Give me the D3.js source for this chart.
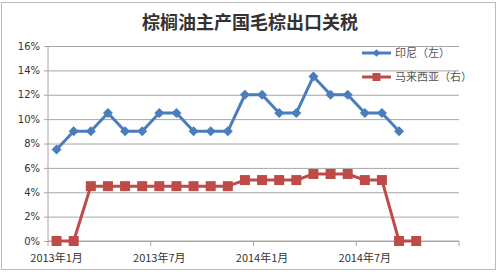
<!DOCTYPE html>
<html>
<head>
<meta charset="utf-8">
<script src="https://cdn.jsdelivr.net/npm/d3@7"></script>
<style>
  body { margin: 0; background: #fff; }
  svg { display: block; }
</style>
</head>
<body>
<svg id="chart"></svg>
<script>
// monthly categories, 2013-01 .. 2014-12
const months = d3.range(24).map(i => `${2013 + Math.floor(i / 12)}年${(i % 12) + 1}月`);
const tickLabels = ["2013年1月", "2013年7月", "2014年1月", "2014年7月"];

// export tax, %
const indonesia = [7.5, 9, 9, 10.5, 9, 9, 10.5, 10.5, 9, 9, 9, 12, 12, 10.5, 10.5, 13.5, 12, 12, 10.5, 10.5, 9];
const malaysia = [0, 0, 4.5, 4.5, 4.5, 4.5, 4.5, 4.5, 4.5, 4.5, 4.5, 5, 5, 5, 5, 5.5, 5.5, 5.5, 5, 5, 0, 0];
const yTicks = [0, 2, 4, 6, 8, 10, 12, 14, 16];

const seriesNames = ["印尼（左）", "马来西亚（右）"];
const blue = "#4a7ebb", red = "#be4b48";

const width = 500, height = 272;
const margin = { top: 46, right: 41, bottom: 31, left: 48 };

const svg = d3.select("#chart")
    .attr("width", width)
    .attr("height", height);

// outer frame
svg.append("rect")
    .attr("x", 1.5).attr("y", 2.5)
    .attr("width", 494).attr("height", 267)
    .attr("fill", "#fff")
    .attr("stroke", "#bcbcbc");

svg.append("text")
    .attr("x", 250).attr("y", 29)
    .attr("text-anchor", "middle")
    .style("font-family", "'Noto Sans CJK SC', sans-serif")
    .style("font-weight", "bold")
    .style("font-size", "18px")
    .style("fill", "#333")
    .text("棕榈油主产国毛棕出口关税");

const x = d3.scaleBand()
    .domain(months)
    .range([margin.left, width - margin.right]);

const y = d3.scaleLinear()
    .domain([0, 16])
    .range([height - margin.bottom, margin.top]);

// gridlines + y axis labels
const yAxis = d3.axisLeft(y)
    .tickValues(yTicks)
    .tickFormat(d => d + "%")
    .tickSize(-(width - margin.left - margin.right))
    .tickPadding(8);

const gy = svg.append("g")
    .attr("transform", `translate(${margin.left},0)`)
    .call(yAxis);
gy.select(".domain").remove();
gy.selectAll(".tick line")
    .attr("x1", -4)
    .attr("stroke", "#a6a6a6");
gy.selectAll(".tick text")
    .style("font-family", "'DejaVu Sans', sans-serif")
    .style("font-size", "10px")
    .style("fill", "#333");

// left axis line
svg.append("line")
    .attr("x1", margin.left).attr("x2", margin.left)
    .attr("y1", margin.top).attr("y2", height - margin.bottom)
    .attr("stroke", "#a6a6a6");

// x axis: ticks at category boundaries every 6 months
const boundaries = d3.range(0, 25, 6).map(i => margin.left + i * x.step());
const gx = svg.append("g");
gx.append("line")
    .attr("x1", margin.left).attr("x2", width - margin.right)
    .attr("y1", y(0)).attr("y2", y(0))
    .attr("stroke", "#a6a6a6");
gx.selectAll("line.tk")
    .data(boundaries)
    .join("line")
    .attr("class", "tk")
    .attr("x1", d => d).attr("x2", d => d)
    .attr("y1", y(0)).attr("y2", y(0) + 5)
    .attr("stroke", "#a6a6a6");
gx.selectAll("text")
    .data(tickLabels)
    .join("text")
    .attr("x", d => x(d) + x.bandwidth() / 2)
    .attr("y", y(0) + 21)
    .attr("text-anchor", "middle")
    .style("font-family", "'Noto Sans CJK SC', sans-serif")
    .style("font-size", "11px")
    .style("fill", "#333")
    .text(d => d);

const cx = (d, i) => x(months[i]) + x.bandwidth() / 2;

const line = d3.line()
    .x(cx)
    .y(d => y(d));

// Malaysia (squares)
svg.append("path")
    .datum(malaysia)
    .attr("fill", "none")
    .attr("stroke", red)
    .attr("stroke-width", 3)
    .attr("stroke-linejoin", "round")
    .attr("d", line);
svg.append("g")
    .selectAll("rect")
    .data(malaysia)
    .join("rect")
    .attr("x", (d, i) => cx(d, i) - 5)
    .attr("y", d => y(d) - 5)
    .attr("width", 10).attr("height", 10)
    .attr("fill", red);

// Indonesia (diamonds)
svg.append("path")
    .datum(indonesia)
    .attr("fill", "none")
    .attr("stroke", blue)
    .attr("stroke-width", 3)
    .attr("stroke-linejoin", "round")
    .attr("d", line);
svg.append("g")
    .selectAll("path")
    .data(indonesia)
    .join("path")
    .attr("transform", (d, i) => `translate(${cx(d, i)},${y(d)}) rotate(45)`)
    .attr("d", d3.symbol().type(d3.symbolSquare).size(50))
    .attr("fill", blue);

// legend
const legend = svg.append("g")
    .selectAll("g")
    .data(seriesNames)
    .join("g")
    .attr("transform", (d, i) => `translate(362,${53 + i * 24})`);
legend.append("line")
    .attr("x1", 0).attr("x2", 29)
    .attr("stroke", (d, i) => i === 0 ? blue : red)
    .attr("stroke-width", 3);
legend.append("path")
    .attr("transform", (d, i) => `translate(14.5,0) rotate(${i === 0 ? 45 : 0})`)
    .attr("d", (d, i) => d3.symbol().type(d3.symbolSquare).size(i === 0 ? 30 : 64)())
    .attr("fill", (d, i) => i === 0 ? blue : red);
legend.append("text")
    .attr("x", 33)
    .attr("y", 4)
    .style("font-family", "'Noto Sans CJK SC', sans-serif")
    .style("font-size", "11px")
    .style("fill", "#555")
    .text(d => d);
</script>
</body>
</html>
